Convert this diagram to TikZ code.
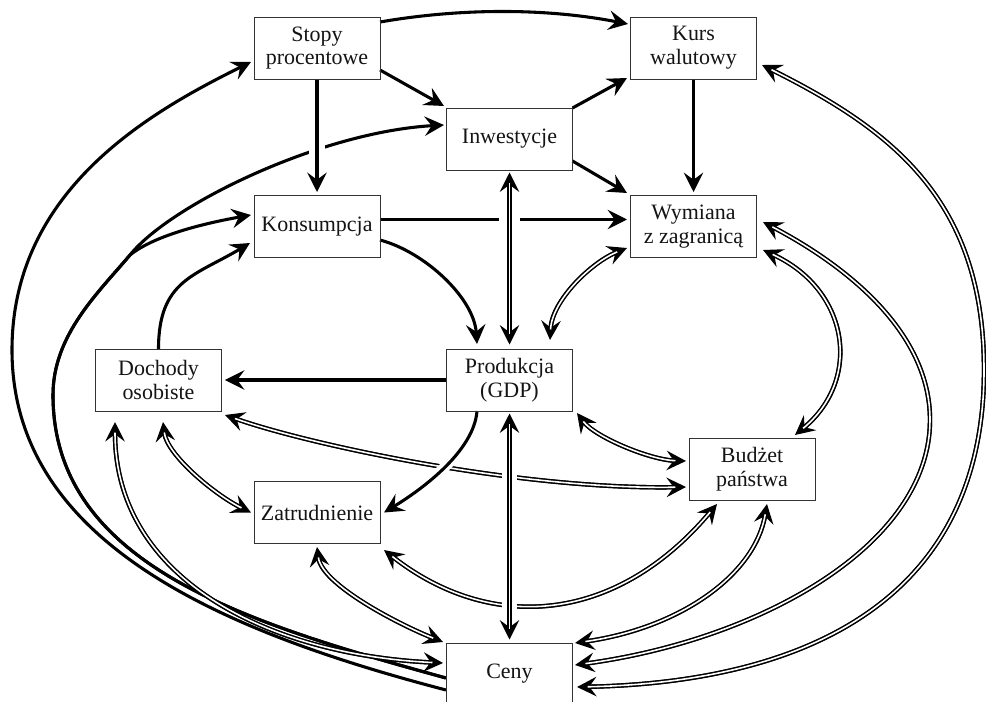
\documentclass[tikz,border=0pt]{standalone}
\usepackage{fontspec}
\setmainfont{Liberation Serif}
\usetikzlibrary{arrows.meta,calc}
\pgfdeclarelayer{back}
\pgfdeclarelayer{edges}
\pgfsetlayers{back,edges,main}
\newcommand\dblpath[1]{\draw[twobase] #1; \draw[twotop] #1;}
\begin{document}
\begin{tikzpicture}[x=0.02cm,y=-0.02cm,
  >={Stealth[length=11pt 0 0,width=11pt 0 0,inset=4pt 0 0]},
  box/.style={draw=black!80, line width=0.55pt, minimum width=2.52cm, minimum height=1.24cm,
    align=center, inner sep=1pt, text=black!92, font=\fontsize{12.5}{13.5}\selectfont},
  one/.style={draw=black, line width=1.75pt, ->},
  twobase/.style={draw=black, line width=2.5pt, <->},
  twotop/.style={draw=black, line width=0.8pt, double=white, double distance=0.9pt,
    shorten <=6pt, shorten >=6pt},
  halo/.style={draw=white, line width=#1}
]
\useasboundingbox (0,0) rectangle (986,702);
\begin{pgfonlayer}{back}
\fill[white] (0,0) rectangle (986,702);
\end{pgfonlayer}

\node[box] (stopy) at (317,48) {Stopy\\procentowe};
\node[box] (kurs) at (693.5,48) {Kurs\\walutowy};
\node[box] (inw) at (509.5,139) {Inwestycje};
\node[box] (kons) at (317,226.5) {Konsumpcja};
\node[box] (wym) at (693.5,226.5) {Wymiana\\z zagranicą};
\node[box] (doch) at (158.5,380) {Dochody\\osobiste};
\node[box] (prod) at (509.5,380) {Produkcja\\(GDP)};
\node[box] (budz) at (752,469) {Budżet\\państwa};
\node[box] (zatr) at (317,512.5) {Zatrudnienie};
\node[box] (ceny) at (509.5,674) {Ceny};

\begin{pgfonlayer}{edges}
% single arrows
\draw[one] ($(stopy)+(63,-26)$) .. controls +(81,-14) and +(-82,-16) .. ($(kurs)+(-65.5,-24)$);
\draw[one] ($(stopy)+(63,22)$) -- ($(inw)+(-65.5,-33)$);
\draw[one] ($(inw)+(63,-31)$) -- ($(kurs)+(-66.5,30)$);
\draw[one] ($(inw)+(63,22)$) -- ($(wym)+(-66.5,-33.5)$);
\draw[one] (kurs.south) -- ($(wym.north)+(0,-3)$);
\draw[one] ($(kons)+(63,-7)$) -- ($(wym)+(-66.5,-7)$);
\draw[one] ($(kons)+(63,13.5)$) .. controls +(45,12) and +(-3,-46) .. ($(prod)+(-32.5,-36)$);
\draw[one] (prod.west) -- ($(doch.east)+(3,0)$);
\draw[one] ($(doch)+(0,-31)$) .. controls +(0,-69) and +(-55,33) .. ($(kons)+(-67,16.5)$);
% from Ceny, left side
\draw[one] ($(ceny)+(-63.5,16)$) .. controls +(-230,-60) and +(0,190) .. (12,350)
  .. controls +(0,-160) and +(-101,50) .. ($(stopy)+(-66,14)$);
\draw[one] ($(ceny)+(-63.5,4)$) .. controls +(-200,-55) and +(0,170) .. (53,395)
  .. controls +(0,-60) and +(-32,38) .. (130,255)
  .. controls +(25,-20) and +(-45,8) .. ($(kons)+(-66,-11.5)$);
\draw[one] ($(ceny)+(-63.5,4)$) .. controls +(-200,-55) and +(0,170) .. (53,395)
  .. controls +(0,-60) and +(-32,38) .. (130,255)
  .. controls +(40,-50) and +(-124,7) .. ($(inw)+(-65.5,-14)$);
% double arrows
\dblpath{($(kurs)+(68.5,17)$) .. controls +(130,65) and +(0,-170) .. (984,370)
  .. controls +(0,220) and +(243,-5) .. ($(ceny)+(67.5,13)$)}
\dblpath{($(wym)+(69.5,-4.5)$) .. controls +(80,42) and +(0,-90) .. (930,420)
  .. controls +(0,125) and +(185,-25) .. ($(ceny)+(65.5,-9)$)}
\dblpath{($(wym)+(69.5,23.5)$) .. controls +(87,40) and +(67,-55) .. ($(budz)+(43,-34)$)}
\dblpath{($(prod)+(40.5,-40)$) .. controls +(2,-40) and +(-35,14) .. ($(wym)+(-66.5,21.5)$)}
\dblpath{($(prod)+(67.5,33)$) .. controls +(18,24) and +(-36,-1) .. ($(budz)+(-66,-8)$)}
\dblpath{($(doch)+(66.5,35)$) .. controls +(85,30) and +(-166,3) .. ($(budz)+(-66,18)$)}
\dblpath{($(doch)+(4.5,42)$) .. controls +(4,33) and +(-36,-17.5) .. ($(zatr)+(-66,0)$)}
\dblpath{($(doch)+(-43.5,42)$) .. controls +(0,158) and +(-173,-8) .. ($(ceny)+(-66.5,-11)$)}
\dblpath{($(zatr)+(0,34.5)$) .. controls +(5,38) and +(-43,-17) .. ($(ceny)+(-66.5,-32)$)}
\dblpath{($(zatr)+(67,37.5)$) .. controls +(106,83) and +(-102,121) .. ($(budz)+(-35,35)$)}
\dblpath{($(budz)+(15,35)$) .. controls +(-12,71) and +(105,-15) .. ($(ceny)+(65.5,-31)$)}
% crossing-over connectors with white halos
\draw[halo=9.5pt] (stopy.south) -- (kons.north);
\draw[one] (stopy.south) -- ($(kons.north)+(0,-3)$);
\draw[halo=12pt] (inw.south) -- (prod.north);
\dblpath{($(inw.south)+(0,2)$) -- ($(prod.north)+(0,-4)$)}
\draw[halo=8pt] (prod.south) -- (ceny.north);
\dblpath{($(prod.south)+(0,2)$) -- ($(ceny.north)+(0,-3)$)}
\draw[halo=6pt] ($(prod)+(-32.5,31)$) .. controls +(-3,39) and +(41,-25) .. ($(zatr)+(67,0)$);
\draw[one] ($(prod)+(-32.5,31)$) .. controls +(-3,39) and +(41,-25) .. ($(zatr)+(67,0)$);
\end{pgfonlayer}
\end{tikzpicture}
\end{document}
